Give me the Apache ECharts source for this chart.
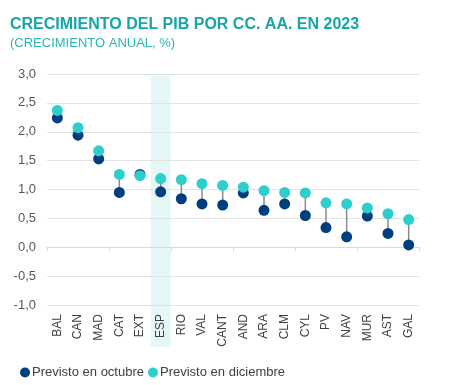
<!DOCTYPE html>
<html>
<head>
<meta charset="utf-8">
<script src="https://cdn.jsdelivr.net/npm/echarts@6/dist/echarts.min.js"></script>
<style>
html,body{margin:0;padding:0;background:#fff;}
#c{width:462px;height:385px;}
</style>
</head>
<body>
<div id="c"></div>
<script>
const categories = ['BAL','CAN','MAD','CAT','EXT','ESP','RIO','VAL','CANT','AND','ARA','CLM','CYL','PV','NAV','MUR','AST','GAL'];
const previstoOctubre = [2.24,1.94,1.53,0.95,1.26,0.96,0.84,0.75,0.73,0.94,0.64,0.75,0.55,0.34,0.18,0.54,0.24,0.04];
const previstoDiciembre = [2.37,2.07,1.67,1.26,1.24,1.19,1.17,1.10,1.07,1.04,0.98,0.95,0.94,0.77,0.75,0.68,0.58,0.48];
const highlighted = 'ESP';
const yMin = -1, yMax = 3, yStep = 0.5;

const seriesNames = ['Previsto en octubre', 'Previsto en diciembre'];
const colorOct = '#003f7f';
const colorDec = '#2ecece';
const hiIdx = categories.indexOf(highlighted);

const chart = echarts.init(document.getElementById('c'), null, {renderer: 'canvas'});
const font = '"Liberation Sans", Arial, sans-serif';

chart.setOption({
  animation: false,
  backgroundColor: '#ffffff',
  title: [
    {text: 'CRECIMIENTO DEL PIB POR CC. AA. EN 2023', left: 5, top: 12,
     textStyle: {fontFamily: font, fontSize: 16, fontWeight: 'bold', color: '#17a5a6'}},
    {text: '(CRECIMIENTO ANUAL, %)', left: 5, top: 32,
     textStyle: {fontFamily: font, fontSize: 13, fontWeight: 'normal', color: '#2bb6b6'}}
  ],
  legend: {
    data: seriesNames,
    left: 15, top: 361,
    itemWidth: 10, itemHeight: 10, itemGap: 4,
    icon: 'circle',
    textStyle: {fontFamily: font, fontSize: 13, color: '#404040', padding: [0,0,0,-3]}
  },
  grid: {left: 47, right: 43, top: 74, bottom: 80, containLabel: false},
  xAxis: [
    {type: 'category', data: categories, position: 'bottom',
     axisLine: {show: false, onZero: false}, axisTick: {show: false},
     axisLabel: {rotate: 90, margin: 9, fontFamily: '"Liberation Sans Narrow", "Liberation Sans", Arial, sans-serif', fontSize: 12, color: '#404040'}},
    {type: 'category', data: categories, position: 'bottom',
     axisLine: {show: true, onZero: true, lineStyle: {color: '#d9d9d9', width: 1}},
     axisTick: {show: true, length: 4, lineStyle: {color: '#d9d9d9'}},
     axisLabel: {show: false}}
  ],
  yAxis: {
    type: 'value', min: yMin, max: yMax, interval: yStep,
    axisLine: {show: false}, axisTick: {show: false},
    splitLine: {lineStyle: {color: '#e2e2e2', width: 1}},
    axisLabel: {margin: 11, fontFamily: font, fontSize: 13, color: '#595959',
      formatter: v => v.toFixed(1).replace('.', ',')}
  },
  series: [
    {
      type: 'custom', name: 'band', silent: true, z: -1, clip: false,
      data: [[hiIdx]],
      renderItem: function (params, api) {
        const idx = api.value(0);
        const cx = api.coord([idx, yMax])[0];
        const w = api.size([1, 0])[0];
        const top = api.coord([idx, yMax])[1] + 2;
        const bottom = api.coord([idx, yMin])[1] + 42;
        return {type: 'rect', shape: {x: cx - w / 2 + 0.5, y: top, width: w - 1, height: bottom - top},
          style: {fill: '#e6f7f8'}};
      }
    },
    {
      type: 'custom', name: 'connector', silent: true, z: 2,
      data: categories.map((c, i) => [i, previstoOctubre[i], previstoDiciembre[i]]),
      renderItem: function (params, api) {
        const p1 = api.coord([api.value(0), api.value(1)]);
        const p2 = api.coord([api.value(0), api.value(2)]);
        return {type: 'line', shape: {x1: p1[0], y1: p1[1], x2: p2[0], y2: p2[1]},
          style: {stroke: '#8a8a8a', lineWidth: 1.5}};
      }
    },
    {
      type: 'scatter', name: seriesNames[0], xAxisIndex: 0, z: 3,
      data: previstoOctubre, symbol: 'circle', symbolSize: 11,
      itemStyle: {color: colorOct, opacity: 1}
    },
    {
      type: 'scatter', name: seriesNames[1], xAxisIndex: 0, z: 4,
      data: previstoDiciembre, symbol: 'circle', symbolSize: 11,
      itemStyle: {color: colorDec, opacity: 1}
    }
  ]
});
</script>
</body>
</html>
